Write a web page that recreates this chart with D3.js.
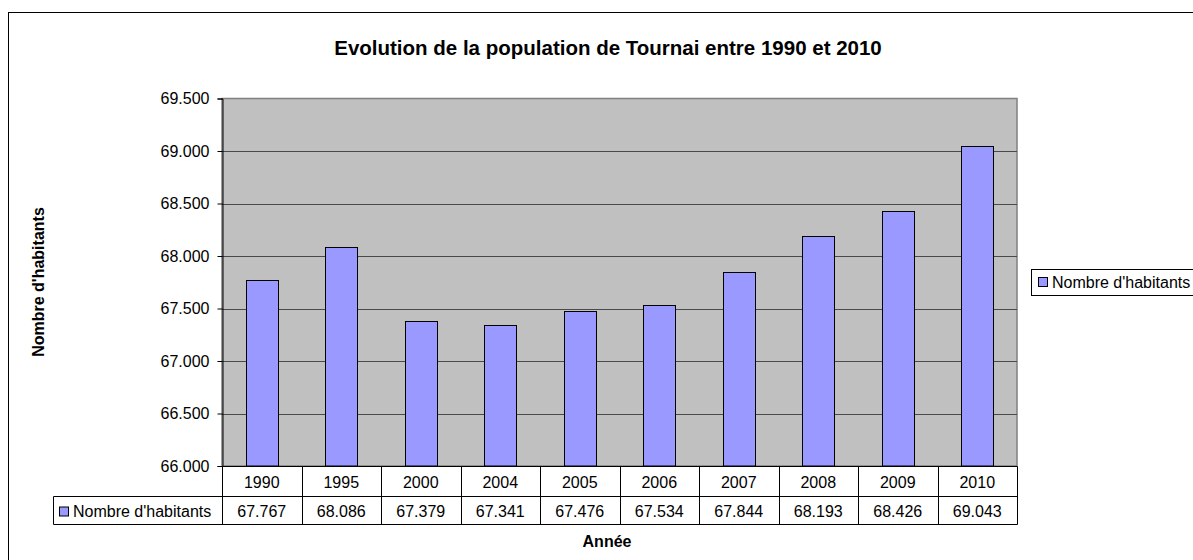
<!DOCTYPE html>
<html>
<head>
<meta charset="utf-8">
<script src="https://cdn.jsdelivr.net/npm/d3@7"></script>
<style>
    body { margin: 0; background: #fff; }
    svg { display: block; font-family: "Liberation Sans", Arial, sans-serif; }
</style>
</head>
<body>
<svg id="chart" width="1193" height="560"></svg>
<script>
"use strict";

const years = ["1990", "1995", "2000", "2004", "2005", "2006", "2007", "2008", "2009", "2010"];
const habitants = [67767, 68086, 67379, 67341, 67476, 67534, 67844, 68193, 68426, 69043];
const yTicks = [66000, 66500, 67000, 67500, 68000, 68500, 69000, 69500];
const seriesName = "Nombre d'habitants";

const BAR_FILL = "#9999ff";
const PLOT_BG = "#c0c0c0";
const FONT = "'Liberation Sans', Arial, sans-serif";
const FS = 16;

const svg = d3.select("#chart");
const plot = { left: 222, right: 1017, top: 98.5, bottom: 466 };
const rowH = { cat: 30, val: 28 };
const tableLeft = 53.5;

// numbers use a dot as thousands separator
const fr = d3.formatLocale({ decimal: ",", thousands: ".", grouping: [3], currency: ["", "€"] });
const fmt = fr.format(",");

const x = d3.scaleBand().domain(years).range([plot.left, plot.right]).paddingInner(0.6).paddingOuter(0.3);
const xCell = d3.scaleBand().domain(years).range([plot.left, plot.right]);
const y = d3.scaleLinear().domain([66000, 69500]).range([plot.bottom, plot.top]);

// outer frame
svg.append("rect")
    .attr("x", 8.5).attr("y", 12.5)
    .attr("width", 1200).attr("height", 600)
    .attr("fill", "#fff").attr("stroke", "#000").attr("stroke-width", 1);

// plot background
svg.append("rect")
    .attr("x", plot.left).attr("y", plot.top)
    .attr("width", plot.right - plot.left).attr("height", plot.bottom - plot.top)
    .attr("fill", PLOT_BG).attr("stroke", "#808080").attr("stroke-width", 1.5);

// gridlines
svg.append("g")
    .selectAll("line")
    .data(yTicks.slice(1, -1))
    .join("line")
    .attr("x1", plot.left).attr("x2", plot.right)
    .attr("y1", (d) => Math.round(y(d)) + 0.5).attr("y2", (d) => Math.round(y(d)) + 0.5)
    .attr("stroke", "#4a4a4a").attr("stroke-width", 1);

// bars
svg.append("g")
    .selectAll("rect")
    .data(years.map((yr, i) => ({ yr, v: habitants[i] })))
    .join("rect")
    .attr("x", (d) => Math.round(x(d.yr)) + 0.5)
    .attr("y", (d) => Math.round(y(d.v)) + 0.5)
    .attr("width", Math.round(x.bandwidth()))
    .attr("height", (d) => plot.bottom - Math.round(y(d.v)) - 0.5)
    .attr("fill", BAR_FILL).attr("stroke", "#000").attr("stroke-width", 1);

// y axis
const yAxis = svg.append("g")
    .attr("transform", `translate(${plot.left + 0.5},0)`)
    .call(d3.axisLeft(y).tickValues(yTicks).tickSize(5).tickPadding(8).tickFormat(fmt));
yAxis.select(".domain").attr("stroke", "#000");
yAxis.selectAll("text").attr("font-size", FS).attr("fill", "#000").attr("font-family", FONT);

// data table
const table = svg.append("g").attr("stroke", "#000").attr("stroke-width", 1).attr("fill", "none");
const t0 = plot.bottom + 0.5, t1 = t0 + rowH.cat, t2 = t1 + rowH.val;
table.append("line").attr("x1", plot.left).attr("x2", plot.right + 0.5).attr("y1", t0).attr("y2", t0);
table.append("line").attr("x1", tableLeft).attr("x2", plot.right + 0.5).attr("y1", t1).attr("y2", t1);
table.append("line").attr("x1", tableLeft).attr("x2", plot.right + 0.5).attr("y1", t2).attr("y2", t2);
table.append("line").attr("x1", tableLeft).attr("x2", tableLeft).attr("y1", t1).attr("y2", t2);
table.selectAll("line.v")
    .data(years.concat(["end"]))
    .join("line")
    .attr("class", "v")
    .attr("x1", (d) => Math.round(d === "end" ? plot.right : xCell(d)) + 0.5)
    .attr("x2", (d) => Math.round(d === "end" ? plot.right : xCell(d)) + 0.5)
    .attr("y1", t0).attr("y2", t2);

const cells = svg.append("g").attr("font-size", FS).attr("fill", "#000").attr("text-anchor", "middle");
cells.selectAll("text.cat")
    .data(years)
    .join("text")
    .attr("class", "cat")
    .attr("x", (d) => xCell(d) + xCell.bandwidth() / 2)
    .attr("y", t0 + rowH.cat / 2 + 6)
    .text((d) => d);
cells.selectAll("text.val")
    .data(years.map((yr, i) => ({ yr, v: habitants[i] })))
    .join("text")
    .attr("class", "val")
    .attr("x", (d) => xCell(d.yr) + xCell.bandwidth() / 2)
    .attr("y", t1 + rowH.val / 2 + 6)
    .text((d) => fmt(d.v));

// legend key in table
svg.append("rect")
    .attr("x", 59.5).attr("y", t1 + 10.5).attr("width", 9).attr("height", 9)
    .attr("fill", BAR_FILL).attr("stroke", "#000");
svg.append("text")
    .attr("x", 73).attr("y", t1 + rowH.val / 2 + 6)
    .attr("font-size", FS).text(seriesName);

// legend on the right
svg.append("rect")
    .attr("x", 1031.5).attr("y", 269.5).attr("width", 200).attr("height", 26)
    .attr("fill", "#fff").attr("stroke", "#000");
svg.append("rect")
    .attr("x", 1038.5).attr("y", 277.5).attr("width", 9).attr("height", 9)
    .attr("fill", BAR_FILL).attr("stroke", "#000");
svg.append("text")
    .attr("x", 1052).attr("y", 288)
    .attr("font-size", FS).text(seriesName);

// titles
svg.append("text")
    .attr("x", 608).attr("y", 55)
    .attr("text-anchor", "middle").attr("font-size", 20.5).attr("font-weight", "bold")
    .text("Evolution de la population de Tournai entre 1990 et 2010");
svg.append("text")
    .attr("x", 607).attr("y", 547)
    .attr("text-anchor", "middle").attr("font-size", FS).attr("font-weight", "bold")
    .text("Année");
svg.append("text")
    .attr("transform", "translate(44,282) rotate(-90)")
    .attr("text-anchor", "middle").attr("font-size", FS).attr("font-weight", "bold")
    .text(seriesName);
</script>
</body>
</html>
